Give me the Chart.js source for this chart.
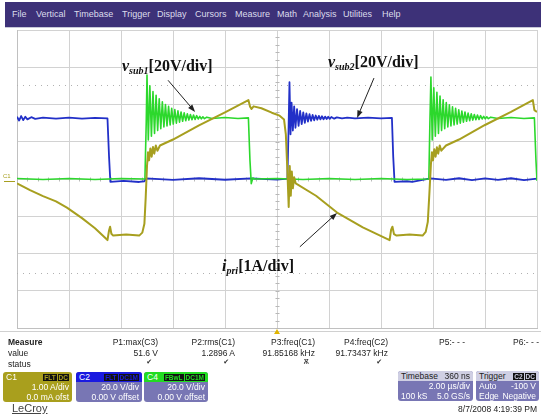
<!DOCTYPE html>
<html>
<head>
<meta charset="utf-8">
<script src="https://cdn.jsdelivr.net/npm/chart.js@4.4.1/dist/chart.umd.min.js"></script>
<style>
  html, body { margin: 0; padding: 0; background: #fff; }
  body { width: 541px; height: 416px; position: relative; overflow: hidden; font-family: "Liberation Sans", Arial, sans-serif; }
  #scope { position: absolute; left: 0; top: 0; }
  .menu { position: absolute; left: 5px; top: 2px; width: 536px; height: 25px; background: #3d3178; border-bottom: 1px solid #c8c8d8; }
  .menu span { position: absolute; top: 7px; font-size: 9px; color: #dcdcec; }
  .txt { position: absolute; font-size: 8.5px; color: #222; white-space: nowrap; }
  .r { text-align: right; }
  .note { position: absolute; font-family: "Liberation Serif", "Times New Roman", serif; font-weight: bold; font-size: 16px; color: #111; white-space: nowrap; }
  .note i { font-style: italic; }
  .note sub { font-size: 10px; font-style: italic; vertical-align: -3px; }
  .box { position: absolute; top: 372px; height: 30px; border-radius: 3px; overflow: hidden; font-size: 8.5px; color: #fff; }
  .box .hd { height: 10px; line-height: 10px; padding: 0 3px; position: relative; }
  .box .ln { height: 10px; line-height: 10px; padding: 0 3px; position: relative; }
  .box .rt { position: absolute; right: 3px; top: 0; }
  .bd { background: #111; font-size: 6.5px; font-weight: bold; padding: 0 1px; margin-left: 1px; }
</style>
</head>
<body>
<canvas id="scope" width="541" height="416"></canvas>

<div class="menu">
  <span style="left:7px">File</span>
  <span style="left:31px">Vertical</span>
  <span style="left:69px">Timebase</span>
  <span style="left:117px">Trigger</span>
  <span style="left:152px">Display</span>
  <span style="left:190px">Cursors</span>
  <span style="left:230px">Measure</span>
  <span style="left:272px">Math</span>
  <span style="left:298px">Analysis</span>
  <span style="left:338px">Utilities</span>
  <span style="left:377px">Help</span>
</div>

<div class="note" style="left:122px; top:57px"><i>v</i><sub>sub1</sub>[20V/div]</div>
<div class="note" style="left:328px; top:53px"><i>v</i><sub>sub2</sub>[20V/div]</div>
<div class="note" style="left:222px; top:257px"><i>i</i><sub>pri</sub>[1A/div]</div>

<div class="txt" style="left:3px; top:173px; font-size:6px; color:#a79f1f">C1</div>

<div class="txt" style="left:8px; top:337px; font-weight:bold">Measure</div>
<div class="txt" style="left:8px; top:348px">value</div>
<div class="txt" style="left:8px; top:359px">status</div>
<div id="measure"></div>

<div class="box" style="left:3px; width:69px; background:#a99f1d">
  <div class="hd">C1<span class="rt"><span class="bd" style="color:#a99f1d">FLT</span><span class="bd" style="color:#a99f1d">DC</span></span></div>
  <div class="ln" style="text-align:right">1.00 A/div</div>
  <div class="ln" style="text-align:right">0.0 mA ofst</div>
</div>
<div class="box" style="left:76px; width:66px; background:#7876b4">
  <div class="hd" style="background:#1a1ae0">C2<span class="rt"><span class="bd" style="color:#1a1ae0">FLT</span><span class="bd" style="color:#1a1ae0">DC1M</span></span></div>
  <div class="ln" style="text-align:right">20.0 V/div</div>
  <div class="ln" style="text-align:right">0.00 V offset</div>
</div>
<div class="box" style="left:144px; width:64px; background:#7876b4">
  <div class="hd" style="background:#22dc22">C4<span class="rt"><span class="bd" style="color:#22dc22">FBwL</span><span class="bd" style="color:#22dc22">DC1M</span></span></div>
  <div class="ln" style="text-align:right">20.0 V/div</div>
  <div class="ln" style="text-align:right">0.00 V offset</div>
</div>

<div class="box" style="left:398px; width:75px; background:#7876b4; top:371px">
  <div class="hd" style="background:#cfcfe3; color:#222">Timebase<span class="rt">360 ns</span></div>
  <div class="ln" style="text-align:right">2.00 µs/div</div>
  <div class="ln">100 kS<span class="rt">5.0 GS/s</span></div>
</div>
<div class="box" style="left:476px; width:63px; background:#7876b4; top:371px">
  <div class="hd" style="background:#cfcfe3; color:#222">Trigger<span class="rt"><span class="bd" style="color:#cfcfe3">C2</span><span class="bd" style="color:#cfcfe3">DC</span></span></div>
  <div class="ln">Auto<span class="rt">-100 V</span></div>
  <div class="ln">Edge<span class="rt">Negative</span></div>
</div>

<div class="txt" style="right:4px; top:404px">8/7/2008 4:19:39 PM</div>
<div class="txt" style="left:12px; top:402px; font-size:11px; color:#444; text-decoration:underline">LeCroy</div>

<script>
// scope settings
var timePerDiv = 2;        // µs/div
var c1PerDiv = 1;          // A/div
var c2PerDiv = 20;         // V/div
var c4PerDiv = 20;         // V/div

// measurement table (label, value, status)
var measLabels = ["P1:max(C3)", "P2:rms(C1)", "P3:freq(C1)", "P4:freq(C2)", "P5:- - -", "P6:- - -"];
var measValues = ["51.6 V", "1.2896 A", "91.85168 kHz", "91.73437 kHz", "", ""];
var measStatus = ["\u2714", "\u2714", "\u046A", "\u2714", "", ""];

// C1 primary current [µs, A]
var c1Trace = [
  [-10, -0.12], [-9.5, -0.3], [-9.0, -0.46], [-8.5, -0.6], [-8.08, -0.77], [-7.5, -1.05], [-7.0, -1.32],
  [-6.52, -1.64], [-6.46, -1.38], [-6.42, -1.28], [-6.37, -1.47], [-6.3, -1.52], [-5.8, -1.49], [-5.3, -1.52],
  [-5.18, -1.44], [-5.1, -1.2], [-5.05, -0.5], [-5.0, 0.35], [-4.96, 0.72], [-4.92, 0.5], [-4.87, 0.82],
  [-4.82, 0.6], [-4.77, 0.86], [-4.72, 0.68], [-4.66, 0.9], [-4.6, 0.76], [-4.5, 0.9], [-4.0, 1.06],
  [-3.0, 1.44], [-2.0, 1.79], [-1.1, 2.12], [-1.04, 1.95], [-0.98, 1.88], [-0.9, 1.95], [-0.6, 1.9],
  [-0.2, 1.78], [0.1, 1.7], [0.27, 1.6], [0.34, 1.2], [0.40, 0.2], [0.45, -0.75], [0.49, 0.35],
  [0.53, -0.45], [0.57, 0.2], [0.61, -0.25], [0.66, 0.05], [0.72, -0.12], [1.5, -0.45], [2.31, -0.9],
  [3.3, -1.3], [4.33, -1.64], [4.39, -1.36], [4.44, -1.28], [4.5, -1.48], [4.6, -1.52], [5.1, -1.49],
  [5.6, -1.52], [5.72, -1.42], [5.8, -1.15], [5.86, -0.4], [5.92, 0.4], [5.96, 0.72], [6.0, 0.5],
  [6.05, 0.8], [6.1, 0.6], [6.15, 0.85], [6.2, 0.68], [6.26, 0.9], [6.32, 0.76], [6.5, 0.9],
  [7.0, 1.06], [8.0, 1.45], [9.0, 1.8], [9.84, 2.12], [9.9, 1.85], [10.0, 1.8]
];

// C2 vsub2 [µs, V]
var c2Trace = [
  [-10, 33.4], [-9.92, 31.4], [-9.84, 33.8], [-9.76, 31.6], [-9.68, 33.4], [-9.6, 32.0], [-9.45, 33.2],
  [-9.3, 32.3], [-9.0, 32.9], [-8.5, 32.4], [-8.0, 32.9], [-7.5, 32.4], [-7.0, 32.8], [-6.52, 32.5],
  [-6.46, 12.0], [-6.41, -1.5], [-5.9, -1.0], [-5.3, -1.6], [-5.1, -1.2], [-5.04, 0.3], [-4.0, -0.5],
  [-3.0, 0.4], [-2.0, -0.4], [-1.0, 0.3], [0.0, -0.3], [0.40, 0.2], [0.44, 24], [0.48, 52],
  [0.52, 24], [0.56, 41], [0.61, 26], [0.66, 39], [0.71, 27.5], [0.77, 37.5], [0.83, 28.5],
  [0.89, 36.5], [0.95, 29.5], [1.01, 35.8], [1.07, 30.2], [1.13, 35.2], [1.19, 30.8], [1.25, 34.8],
  [1.31, 31.2], [1.37, 34.4], [1.43, 31.5], [1.49, 34.1], [1.55, 31.8], [1.61, 33.9], [1.67, 32.0],
  [1.73, 33.7], [1.79, 32.1], [1.85, 33.5], [1.91, 32.2], [1.97, 33.4], [2.03, 32.3], [2.09, 33.3],
  [2.2, 32.4], [2.3, 33.1], [2.5, 32.5], [2.7, 33.0], [3.0, 32.5], [3.5, 33.0], [4.0, 32.5],
  [4.42, 32.8], [4.47, 12.0], [4.52, -1.5], [5.0, -1.2], [5.2, -1.6], [5.5, -0.8], [5.9, 0.3],
  [6.5, -0.5], [7.0, 0.4], [7.5, -0.6], [8.0, 0.3], [8.5, -0.5], [9.0, 0.4], [9.5, -0.6], [10.0, 0.2]
];

// C4 vsub1 [µs, V]
var c4Trace = [
  [-10, 0.3], [-9, -0.3], [-8, 0.3], [-7, -0.3], [-6, 0.3], [-5.08, 0], [-5.03, 30], [-5.0, 55.8],
  [-4.95, 21], [-4.89, 50], [-4.83, 23], [-4.77, 47], [-4.71, 24.5], [-4.65, 45], [-4.59, 26],
  [-4.53, 43], [-4.47, 27], [-4.41, 41.5], [-4.35, 28], [-4.29, 40], [-4.23, 28.5], [-4.17, 39],
  [-4.11, 29], [-4.05, 38], [-3.99, 29.5], [-3.93, 37.3], [-3.87, 30], [-3.81, 36.6], [-3.75, 30.5],
  [-3.69, 36], [-3.63, 31], [-3.57, 35.5], [-3.51, 31.3], [-3.45, 35], [-3.39, 31.6], [-3.33, 34.6],
  [-3.27, 31.8], [-3.21, 34.3], [-3.15, 32], [-3.09, 34], [-3.03, 32.2], [-2.97, 33.6], [-2.91, 32.3],
  [-2.85, 33.4], [-2.79, 32.4], [-2.7, 33.2], [-2.5, 32.5], [-2.0, 33.0], [-1.5, 32.5], [-1.1, 32.8],
  [-1.04, 10], [-0.99, -2.5], [-0.93, 0.5], [-0.85, 0], [0, 0.3], [1, -0.3], [2, 0.3], [3, -0.3],
  [4, 0.3], [5, -0.3], [5.84, 0], [5.88, 30], [5.92, 54.7], [5.97, 21], [6.03, 49], [6.09, 23],
  [6.15, 46.5], [6.21, 24.5], [6.27, 44.5], [6.33, 26], [6.39, 42.5], [6.45, 27], [6.51, 41],
  [6.57, 28], [6.63, 39.8], [6.69, 28.5], [6.75, 38.8], [6.81, 29], [6.87, 38], [6.93, 29.5],
  [6.99, 37.2], [7.05, 30], [7.11, 36.5], [7.17, 30.5], [7.23, 36], [7.29, 31], [7.35, 35.4],
  [7.41, 31.3], [7.47, 35], [7.53, 31.6], [7.59, 34.6], [7.65, 31.8], [7.71, 34.3], [7.77, 32],
  [7.83, 34], [7.89, 32.2], [7.95, 33.6], [8.01, 32.3], [8.07, 33.4], [8.13, 32.4], [8.22, 33.2],
  [8.5, 32.5], [9.0, 33.0], [9.5, 32.5], [9.9, 32.8], [9.96, 10], [10.0, -1]
];

// annotation arrows [from µs, from div, to µs, to div]
var arrows = [
  [-4.19, 2.65, -3.15, 1.80],
  [3.73, 2.71, 3.08, 1.64],
  [0.88, -1.82, 2.31, -0.91]
];
var cursorLevels = [2.52, -2.52];   // dotted lines, div

function toPoints(trace, perDiv) {
  var out = [];
  for (var i = 0; i < trace.length; i++) {
    out.push({ x: trace[i][0], y: trace[i][1] / perDiv });
  }
  return out;
}

// measurement row
(function () {
  var rights = [158, 235, 315, 388, 465, 539];
  var host = document.getElementById('measure');
  for (var i = 0; i < measLabels.length; i++) {
    var x = 541 - rights[i];
    host.insertAdjacentHTML('beforeend',
      '<div class="txt r" style="right:' + x + 'px; top:337px">' + measLabels[i] + '</div>' +
      '<div class="txt r" style="right:' + x + 'px; top:348px">' + measValues[i] + '</div>' +
      '<div class="txt r" style="right:' + (x + 6) + 'px; top:358px; font-family:\'DejaVu Sans\'; font-size:7px; color:#333">' + measStatus[i] + '</div>');
  }
})();

var scopeDecor = {
  id: 'scopeDecor',
  beforeDraw: function (chart) {
    var ctx = chart.ctx, a = chart.chartArea;
    ctx.save();
    ctx.fillStyle = '#fff';
    ctx.fillRect(0, 0, chart.width, chart.height);
    ctx.strokeStyle = '#d0d0d0';
    ctx.beginPath();
    ctx.moveTo(0, 331.5); ctx.lineTo(chart.width, 331.5);
    ctx.stroke();
    ctx.restore();
  },
  beforeDatasetsDraw: function (chart) {
    var ctx = chart.ctx, a = chart.chartArea;
    var xs = chart.scales.x, ys = chart.scales.y;
    ctx.save();
    // dotted cursor lines
    ctx.strokeStyle = '#b0b0b0';
    ctx.setLineDash([1, 5]);
    for (var i = 0; i < cursorLevels.length; i++) {
      var py = Math.round(ys.getPixelForValue(cursorLevels[i])) + 0.5;
      ctx.beginPath(); ctx.moveTo(a.left, py); ctx.lineTo(a.right, py); ctx.stroke();
    }
    ctx.setLineDash([]);
    // minor ticks on center axes
    ctx.strokeStyle = '#b8b8b8';
    var cx = Math.round(xs.getPixelForValue(0)) + 0.5;
    var cy = Math.round(ys.getPixelForValue(0)) + 0.5;
    ctx.beginPath();
    for (var v = -4; v <= 4; v += 0.2) {
      var ty = Math.round(ys.getPixelForValue(v)) + 0.5;
      ctx.moveTo(cx - 2, ty); ctx.lineTo(cx + 2, ty);
    }
    for (var t = -10; t <= 10; t += 0.4) {
      var tx = Math.round(xs.getPixelForValue(t)) + 0.5;
      ctx.moveTo(tx, cy - 2); ctx.lineTo(tx, cy + 2);
    }
    ctx.stroke();
    ctx.restore();
  },
  afterDatasetsDraw: function (chart) {
    var ctx = chart.ctx, a = chart.chartArea;
    var xs = chart.scales.x, ys = chart.scales.y;
    ctx.save();
    ctx.strokeStyle = '#222';
    ctx.fillStyle = '#222';
    ctx.lineWidth = 1;
    for (var i = 0; i < arrows.length; i++) {
      var x0 = xs.getPixelForValue(arrows[i][0]), y0 = ys.getPixelForValue(arrows[i][1]);
      var x1 = xs.getPixelForValue(arrows[i][2]), y1 = ys.getPixelForValue(arrows[i][3]);
      var ang = Math.atan2(y1 - y0, x1 - x0);
      ctx.beginPath(); ctx.moveTo(x0, y0); ctx.lineTo(x1 - 5 * Math.cos(ang), y1 - 5 * Math.sin(ang)); ctx.stroke();
      ctx.beginPath();
      ctx.moveTo(x1, y1);
      ctx.lineTo(x1 - 8 * Math.cos(ang - 0.35), y1 - 8 * Math.sin(ang - 0.35));
      ctx.lineTo(x1 - 8 * Math.cos(ang + 0.35), y1 - 8 * Math.sin(ang + 0.35));
      ctx.closePath(); ctx.fill();
    }
    // trigger position marker
    var tx = xs.getPixelForValue(0);
    ctx.fillStyle = '#e0b400';
    ctx.beginPath();
    ctx.moveTo(tx, a.bottom + 1); ctx.lineTo(tx - 3, a.bottom + 6); ctx.lineTo(tx + 3, a.bottom + 6);
    ctx.closePath(); ctx.fill();
    // channel ground marker
    var gy = ys.getPixelForValue(0);
    ctx.strokeStyle = '#a79f1f';
    ctx.beginPath(); ctx.moveTo(4, gy + 2.5); ctx.lineTo(15, gy + 2.5); ctx.stroke();
    ctx.restore();
  }
};

new Chart(document.getElementById('scope').getContext('2d'), {
  type: 'line',
  data: {
    datasets: [
      { label: 'C1', data: toPoints(c1Trace, c1PerDiv), borderColor: '#a79f1f', borderWidth: 2, order: 0 },
      { label: 'C4', data: toPoints(c4Trace, c4PerDiv), borderColor: '#2cd82c', borderWidth: 1.6, order: 1 },
      { label: 'C2', data: toPoints(c2Trace, c2PerDiv), borderColor: '#2230c8', borderWidth: 1.8, order: 2 }
    ]
  },
  options: {
    responsive: false,
    animation: false,
    devicePixelRatio: 1,
    layout: { padding: { left: 17, top: 30, right: 4, bottom: 88 } },
    elements: { point: { radius: 0 }, line: { tension: 0, borderJoinStyle: 'round' } },
    plugins: { legend: { display: false }, tooltip: { enabled: false } },
    scales: {
      x: {
        type: 'linear', min: -5 * timePerDiv, max: 5 * timePerDiv,
        ticks: { display: false, stepSize: timePerDiv },
        grid: { color: '#d2d2d2', drawTicks: false },
        border: { display: true, color: '#c0c0c0' }
      },
      y: {
        type: 'linear', min: -4, max: 4,
        ticks: { display: false, stepSize: 1 },
        grid: { color: '#d2d2d2', drawTicks: false },
        border: { display: true, color: '#c0c0c0' }
      }
    }
  },
  plugins: [scopeDecor]
});
</script>
</body>
</html>
